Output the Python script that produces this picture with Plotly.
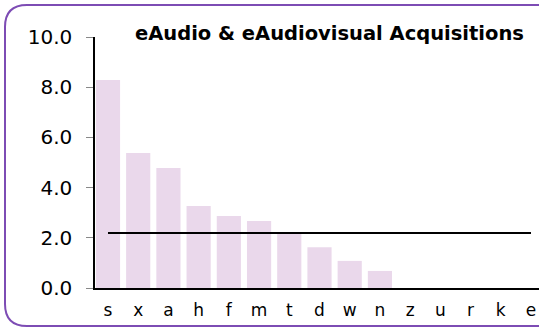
import plotly.graph_objects as go

categories = ["s", "x", "a", "h", "f", "m", "t", "d", "w", "n", "z", "u", "r", "k", "e"]
values = [8.29, 5.38, 4.78, 3.27, 2.87, 2.67, 2.15, 1.62, 1.08, 0.68, 0, 0, 0, 0, 0]
average = [2.19] * len(categories)
y_ticks = [0, 2, 4, 6, 8, 10]
y_tick_labels = ["0.0", "2.0", "4.0", "6.0", "8.0", "10.0"]
title_text = "eAudio & eAudiovisual Acquisitions"

W, H = 539, 328
L, R, T, B = 95, 0, 37, 40
pw, ph = W - L - R, H - T - B


def px(x):
    return (x - L) / pw


def py(y):
    return (H - B - y) / ph


fig = go.Figure()
fig.add_trace(go.Bar(x=categories, y=values, marker=dict(color="#ead8eb", line=dict(width=0)),
                     showlegend=False, hoverinfo="x+y"))
fig.add_trace(go.Scatter(x=categories, y=average, mode="lines",
                         line=dict(color="black", width=2), showlegend=False))

# rounded border
r = 22
x0, y0, x1, y1 = 5, 5, 560, 326
pts = (f"M {px(x0)},{py(y0 + r)} Q {px(x0)},{py(y0)} {px(x0 + r)},{py(y0)} "
       f"L {px(x1 - r)},{py(y0)} Q {px(x1)},{py(y0)} {px(x1)},{py(y0 + r)} "
       f"L {px(x1)},{py(y1 - r)} Q {px(x1)},{py(y1)} {px(x1 - r)},{py(y1)} "
       f"L {px(x0 + r)},{py(y1)} Q {px(x0)},{py(y1)} {px(x0)},{py(y1 - r)} Z")
fig.add_shape(type="path", path=pts, xref="paper", yref="paper",
              line=dict(color="#7d4cb4", width=2), layer="above")

fig.add_annotation(text=f"<b>{title_text}</b>", xref="paper", yref="paper",
                   x=px(329), y=py(33), xanchor="center", yanchor="middle",
                   showarrow=False, font=dict(family="DejaVu Sans", size=19.5, color="black"))

fig.update_layout(
    width=W, height=H,
    margin=dict(l=L, r=R, t=T, b=B, autoexpand=False),
    paper_bgcolor="white", plot_bgcolor="white",
    bargap=0.2,
    font=dict(family="DejaVu Sans", color="black"),
    xaxis=dict(type="category", range=[-0.43, 14.265], showline=True, linecolor="black",
               linewidth=1.5, ticks="", showgrid=False, zeroline=False, automargin=False,
               tickfont=dict(size=17), ticklabelstandoff=6),
    yaxis=dict(range=[0, 10], tickvals=y_ticks, ticktext=y_tick_labels, showline=True,
               linecolor="black", linewidth=1.5, ticks="outside", ticklen=7, automargin=False,
               tickcolor="#888888", tickwidth=1, showgrid=False, zeroline=False,
               tickfont=dict(size=20), ticklabelstandoff=10),
)

fig.write_html("out.html", config={"displayModeBar": False},
               post_script="document.body.style.margin='0px';document.body.style.overflow='hidden';")
